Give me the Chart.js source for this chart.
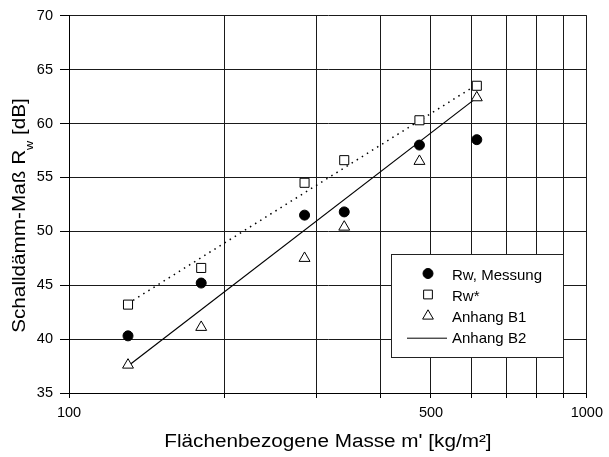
<!DOCTYPE html>
<html><head><meta charset="utf-8">
<script src="https://cdn.jsdelivr.net/npm/chart.js@4/dist/chart.umd.min.js"></script>
<style>html,body{margin:0;padding:0;background:#fff}#wrap{width:609px;height:457px}</style>
</head><body><div id="wrap"><canvas id="c" width="609" height="457"></canvas></div>
<script>
// ---- data ----
const masses = [130, 180, 285, 340, 475, 613];
const rwMessung = [40.3, 45.2, 51.5, 51.8, 58.0, 58.5];
const rwStar = [43.2, 46.6, 54.5, 56.6, 60.3, 63.5];
const anhangB1 = [37.6, 41.1, 47.5, 50.4, 56.5, 62.4];
const rwStarTrendX = [130, 613];
const rwStarTrend = [43.3, 63.6];
const anhangB2X = [130, 613];
const anhangB2 = [37.5, 62.4];
const xTicks = [100, 200, 300, 400, 500, 600, 700, 800, 900, 1000];
const xTickLabels = [100, 500, 1000];
const yMin = 35, yMax = 70, yStep = 5;
const labels = ['Rw, Messung', 'Rw*', 'Anhang B1', 'Anhang B2'];
const xTitle = "Flächenbezogene Masse m' [kg/m²]";
const yTitleMain = 'Schalldämm-Maß R', yTitleSub = 'w', yTitleEnd = ' [dB]';

const pts = (xs, ys) => xs.map((x, i) => ({x, y: ys[i]}));
const FONT = '"Liberation Sans", Arial, sans-serif';
const STRETCH = 1.15;

const titlePlugin = {
  id: 'axisTitles',
  afterDraw(chart) {
    const ctx = chart.ctx;
    const area = chart.chartArea;
    const big = '18px ' + FONT, small = '11px ' + FONT;
    ctx.save();
    ctx.fillStyle = '#000';
    ctx.textBaseline = 'alphabetic';
    // x title
    ctx.save();
    ctx.translate((area.left + area.right) / 2, 446.7);
    ctx.scale(STRETCH, 1);
    ctx.font = big; ctx.textAlign = 'center';
    ctx.fillText(xTitle, 0, 0);
    ctx.restore();
    // y title (rotated, with subscript)
    ctx.save();
    ctx.font = big; const w1 = ctx.measureText(yTitleMain).width; const w3 = ctx.measureText(yTitleEnd).width;
    ctx.font = small; const w2 = ctx.measureText(yTitleSub).width;
    const total = w1 + w2 + w3;
    ctx.translate(25, 215.5);
    ctx.rotate(-Math.PI / 2);
    ctx.scale(STRETCH, 1);
    ctx.textAlign = 'left';
    let x = -total / 2;
    ctx.font = big; ctx.fillText(yTitleMain, x, 0); x += w1;
    ctx.font = small; ctx.fillText(yTitleSub, x, 8); x += w2;
    ctx.font = big; ctx.fillText(yTitleEnd, x, 0);
    ctx.restore();
    ctx.restore();
  }
};

const legendPlugin = {
  id: 'boxLegend',
  afterDraw(chart) {
    const ctx = chart.ctx;
    ctx.save();
    const bx = 391, by = 254, bw = 172, bh = 103;
    ctx.fillStyle = '#fff';
    ctx.fillRect(bx, by, bw, bh);
    ctx.strokeStyle = '#222'; ctx.lineWidth = 1;
    ctx.strokeRect(bx + 0.5, by + 0.5, bw, bh);
    const items = [0, 1, 2, 4];
    const markY = [273.5, 294.5, 316, 337.7];
    const textY = [279.5, 300.7, 321.9, 343.1];
    ctx.font = '15px ' + FONT;
    ctx.textBaseline = 'alphabetic';
    items.forEach((di, i) => {
      const ds = chart.data.datasets[di];
      const y = markY[i];
      if (ds.pointRadius > 0) {
        ctx.fillStyle = ds.backgroundColor; ctx.strokeStyle = ds.borderColor; ctx.lineWidth = 1;
        Chart.helpers.drawPoint(ctx, {pointStyle: ds.pointStyle, rotation: 0, borderWidth: 1, radius: ds.legendRadius}, 428, y);
      } else {
        ctx.strokeStyle = ds.borderColor; ctx.lineWidth = 1;
        ctx.beginPath(); ctx.moveTo(407, y + 0.5); ctx.lineTo(447, y + 0.5); ctx.stroke();
      }
      ctx.fillStyle = '#000';
      ctx.fillText(ds.label, 452, textY[i]);
    });
    ctx.restore();
  }
};

new Chart(document.getElementById('c'), {
  type: 'scatter',
  data: {
    datasets: [
      {label: labels[0], data: pts(masses, rwMessung), pointStyle: 'circle', pointRadius: 5, legendRadius: 5,
       backgroundColor: '#000', borderColor: '#000', borderWidth: 1, showLine: false},
      {label: labels[1], data: pts(masses, rwStar), pointStyle: 'rect', pointRadius: 6.4, legendRadius: 6.2,
       backgroundColor: '#fff', borderColor: '#000', borderWidth: 1, showLine: false},
      {label: labels[2], data: pts(masses, anhangB1), pointStyle: 'triangle', pointRadius: 6.3, legendRadius: 6.2,
       backgroundColor: '#fff', borderColor: '#000', borderWidth: 1, showLine: false},
      {label: 'Rw* Trend', data: pts(rwStarTrendX, rwStarTrend), pointRadius: 0, showLine: true,
       borderColor: '#000', borderWidth: 1.5, borderDash: [1.5, 4.5], fill: false},
      {label: labels[3], data: pts(anhangB2X, anhangB2), pointRadius: 0, showLine: true,
       borderColor: '#000', borderWidth: 1.2, fill: false}
    ]
  },
  options: {
    responsive: false, animation: false, devicePixelRatio: 1,
    layout: {padding: {top: 13, right: 17, left: 0, bottom: 0}},
    plugins: {legend: {display: false}, tooltip: {enabled: false}},
    scales: {
      x: {
        type: 'logarithmic', min: 100, max: 1000,
        afterBuildTicks: s => { s.ticks = xTicks.map(v => ({value: v})); },
        afterFit: s => { s.height = 64; },
        ticks: {autoSkip: false, maxRotation: 0, padding: 6, color: '#000',
          font: {family: FONT, size: 14.5},
          callback: v => xTickLabels.includes(v) ? String(v) : ''},
        grid: {color: '#1a1a1a', lineWidth: 1, tickLength: 5, tickColor: '#000'},
        border: {display: true, color: '#000', width: 1}
      },
      y: {
        min: yMin, max: yMax,
        afterFit: s => { s.width = 69; },
        ticks: {stepSize: yStep, padding: 7, color: '#000', font: {family: FONT, size: 14.5}},
        grid: {color: '#1a1a1a', lineWidth: 1, tickLength: 9, tickColor: '#000'},
        border: {display: true, color: '#000', width: 1}
      }
    }
  },
  plugins: [titlePlugin, legendPlugin]
});
</script></body></html>
